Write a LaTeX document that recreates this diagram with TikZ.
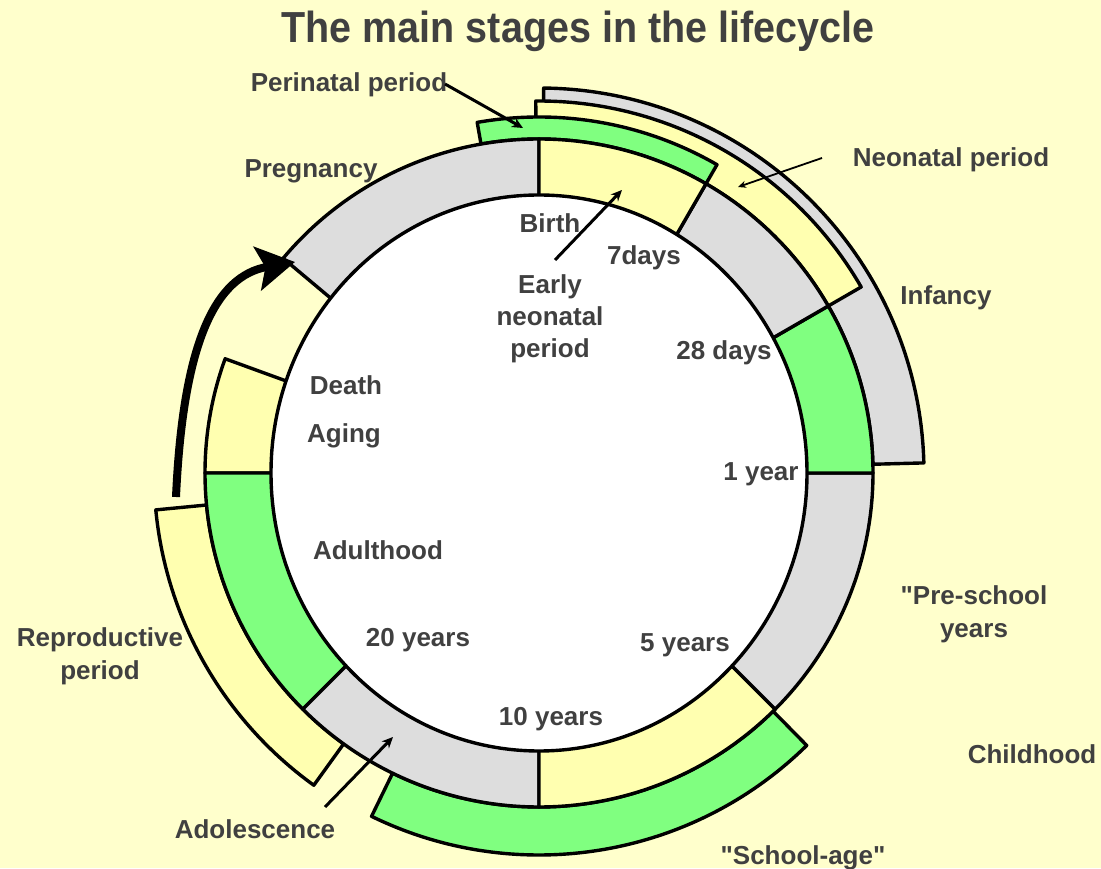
\documentclass[tikz,border=0pt]{standalone}
\usepackage{fontspec}
\setmainfont{Liberation Sans}[Ligatures=TeXOff]
\usetikzlibrary{arrows.meta}
\definecolor{bg}{HTML}{FFFFCC}
\definecolor{ltgray}{HTML}{DDDDDD}
\definecolor{ltyellow}{HTML}{FFFFB0}
\definecolor{ltgreen}{HTML}{80FF80}
\definecolor{txt}{HTML}{404040}
% annular sector: #1 colour, #2 start angle, #3 end angle, #4 inner r, #5 outer r
\newcommand\annsec[5]{\draw[seg, fill=#1] (#2:#5pt) arc[start angle=#2, end angle=#3, radius=#5pt] -- (#3:#4pt) arc[start angle=#3, end angle=#2, radius=#4pt] -- cycle;}
% pie sector: #1 colour, #2 start, #3 end, #4 radius
\newcommand\piesec[4]{\draw[seg, fill=#1] (0,0) -- (#2:#4pt) arc[start angle=#2, end angle=#3, radius=#4pt] -- cycle;}
\begin{document}
\begin{tikzpicture}[x=1pt,y=1pt,
  lbl/.style={text=txt, font=\fontsize{26}{32}\selectfont\bfseries, inner sep=0pt, align=center},
  lbltwo/.style={lbl, font=\fontsize{26}{33}\selectfont\bfseries},
  seg/.style={draw=black, line width=3.4pt, line join=round},
  ptr/.style={draw=black, line width=3pt, -{Stealth[length=11pt,width=10pt]}},
  thinptr/.style={draw=black, line width=1.8pt, -{Stealth[length=8pt,width=7pt]}},
  bigarrow/.style={draw=black, line width=8pt, -{Stealth[length=38pt,width=44pt,inset=8pt]}},
]
\useasboundingbox (0,0) rectangle (1101,868);
\fill[bg] (0,0) rectangle (1101,868);

\begin{scope}[shift={(539,395)}]
  % outer bands
  \annsec{ltgray}{1.5}{89.3}{334}{385}
  \annsec{ltyellow}{30}{90.5}{334}{372}
  \annsec{ltgreen}{60}{100}{334}{356}
  \annsec{ltyellow}{185.5}{234.2}{334}{385}
  \annsec{ltgreen}{244}{314.5}{334}{382}
  % main ring
  \piesec{ltgray}{90}{140}{334}
  \piesec{ltyellow}{160}{180}{334}
  \piesec{ltgreen}{180}{225}{334}
  \piesec{ltgray}{225}{270}{334}
  \piesec{ltyellow}{270}{315}{334}
  \piesec{ltgray}{315}{360}{334}
  \piesec{ltgreen}{0}{30}{334}
  \piesec{ltgray}{30}{60}{334}
  \piesec{ltyellow}{60}{90}{334}
  \draw[seg, fill=white] (0,0) ellipse[x radius=268pt, y radius=278pt];
\end{scope}

% title
\node[text=txt, font=\fontsize{39.5}{44}\selectfont\bfseries, inner sep=0pt, anchor=base, transform shape, yscale=1.1] (title) at (578,825) {The main stages in the lifecycle};

% labels
\node[lbl, anchor=base] (peri) at (349,776) {Perinatal period};
\node[lbl, anchor=base] (preg) at (311,690) {Pregnancy};
\node[lbl, anchor=base] (neo) at (951,701) {Neonatal period};
\node[lbl, anchor=base] (inf) at (946,563) {Infancy};
\node[lbl, anchor=base] (birth) at (550,635) {Birth};
\node[lbl, anchor=base] (sevend) at (644,603) {7days};
\node[lbl] (early) at (550,549) {Early\\neonatal\\period};
\node[lbl, anchor=base] (tweight) at (724,508) {28 days};
\node[lbl, anchor=base] (oneyr) at (761,387) {1 year};
\node[lbl, anchor=base] (death) at (346,473) {Death};
\node[lbl, anchor=base] (aging) at (344,425) {Aging};
\node[lbl, anchor=base] (adult) at (378,308) {Adulthood};
\node[lbltwo] (presch) at (974,254) {"Pre-school\\years};
\node[lbl, anchor=base] (child) at (1032,104) {Childhood};
\node[lbl, anchor=base] (fiveyr) at (685,216) {5 years};
\node[lbl, anchor=base] (tenyr) at (551,142) {10 years};
\node[lbl, anchor=base] (twentyyr) at (418,221) {20 years};
\node[lbltwo] (repro) at (100,212) {Reproductive\\period};
\node[lbl, anchor=base] (adol) at (255,30) {Adolescence};
\node[lbl, anchor=base] (schage) at (803,4) {"School-age"};

% pointer ends
\coordinate (periS) at (445,784);
\coordinate (periT) at (523,740);
\coordinate (neoS) at (822,710);
\coordinate (neoT) at (738,681);
\coordinate (earlyS) at (555,608);
\coordinate (earlyT) at (622,678);
\coordinate (adolS) at (325,61);
\coordinate (adolT) at (393,131);
\draw[ptr] (periS) -- (periT);
\draw[thinptr] (neoS) -- (neoT);
\draw[ptr] (earlyS) -- (earlyT);
\draw[ptr] (adolS) -- (adolT);

% big cycle arrow
\coordinate (cycS) at (176,371);
\coordinate (cycT) at (295,606);
\draw[bigarrow] (cycS) .. controls (183,525) and (215,592) .. (cycT);
\end{tikzpicture}
\end{document}
